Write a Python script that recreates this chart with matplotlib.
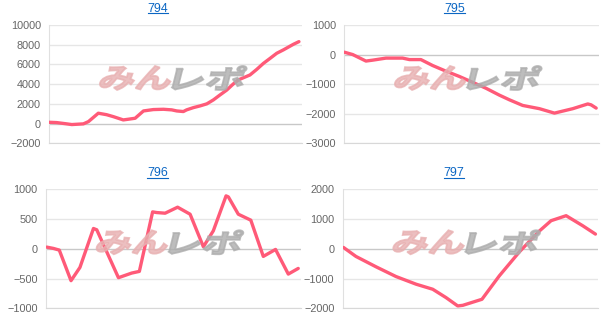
import numpy as np
import matplotlib
matplotlib.use("Agg")
import matplotlib.pyplot as plt
from matplotlib.lines import Line2D
from matplotlib.textpath import TextPath
from matplotlib.patches import PathPatch
from matplotlib.font_manager import FontProperties
from matplotlib.transforms import Affine2D

plt.rcParams['font.family'] = ['Liberation Sans', 'DejaVu Sans']

# machine numbers (panel titles)
titles = ["794", "795", "796", "797"]

# progress through the day (0-100) and coin difference
x794 = [0, 2.9, 6.9, 8.9, 13.5, 15.5, 19.4, 22.7, 25.4, 29.3, 31.3, 34.0, 37.3, 41.2,
        45.2, 48.5, 50.5, 53.1, 54.4, 57.1, 59.7, 62.4, 65.0, 67.6, 70.3, 72.9, 74.9,
        79.5, 82.2, 84.8, 87.5, 90.1, 92.7, 96.7, 98.9]
y794 = [130, 100, -30, -100, -30, 200, 1050, 900, 700, 370, 440, 540, 1280, 1420,
        1450, 1390, 1280, 1220, 1390, 1620, 1790, 2000, 2400, 2900, 3400, 4020, 4430,
        4930, 5500, 6100, 6620, 7130, 7470, 8040, 8310]

x795 = [0, 3.3, 5.9, 8.5, 11.1, 16.4, 22.9, 25.6, 30.1, 34.7, 39.9, 45.2, 50.5, 55.7,
        60.9, 64.9, 70.1, 76.7, 82.6, 84.5, 89.8, 95.7, 97.0, 99.0]
y795 = [80, 0, -110, -220, -190, -120, -120, -170, -170, -370, -560, -740, -940, -1140,
        -1370, -1530, -1720, -1830, -1980, -1940, -1830, -1670, -1700, -1810]

x796 = [0.3, 2.9, 5.2, 9.8, 13.3, 18.6, 19.9, 28.4, 33.6, 36.6, 41.8, 43.4, 46.7, 51.6,
        56.5, 61.7, 65.6, 70.6, 71.5, 75.4, 80.3, 85.2, 90.0, 95.0, 98.9]
y796 = [28, 6, -22, -536, -313, 341, 319, -486, -408, -380, 620, 609, 598, 699,
        581, 34, 302, 889, 872, 581, 481, -128, -11, -425, -330]

x797 = [0.3, 5.2, 13.1, 20.9, 28.8, 35.3, 40.5, 45.1, 47.1, 54.6, 61.4, 69.3, 77.1,
        81.7, 87.6, 94.1, 99.1]
y797 = [45, -258, -607, -933, -1191, -1360, -1640, -1921, -1900, -1697, -910, -101, 596,
        944, 1112, 775, 494]

xs = [x794, x795, x796, x797]
ys = [y794, y795, y796, y797]
yticks = [np.arange(-2000, 10001, 2000), np.arange(-3000, 1001, 1000),
          np.arange(-1000, 1001, 500), np.arange(-2000, 2001, 1000)]

# axes boxes in figure fractions
boxes = [[0.0806, 0.5697, 0.4124, 0.3553],
         [0.5626, 0.5697, 0.4157, 0.3553],
         [0.0752, 0.0742, 0.4167, 0.3574],
         [0.5600, 0.0742, 0.4167, 0.3574]]
title_x = [0.258, 0.743, 0.257, 0.742]

fig = plt.figure(figsize=(6.12, 3.33), dpi=100)
W, H = 612, 333
wm_font = FontProperties(family='Noto Sans CJK JP', weight='bold')


def watermark(ax, box):
    # slanted, squat logo drawn as text paths in pixel coordinates
    x0 = box[0] * W + 53
    ytop = (box[1] + box[3]) * H
    y0 = ytop - 65
    for txt, col, dx in [('みん', '#e8b0b1', 0), ('レポ', '#adadad', 73)]:
        p = TextPath((0, 0), txt, size=1, prop=wm_font)
        ext = p.get_extents()
        sx = 70 / ext.width
        sy = 24 / ext.height
        tr = (Affine2D().translate(-ext.x0, -ext.y0).scale(sx, sy)
              .skew_deg(14, 0).translate(x0 + dx - 4, y0))
        fig.patches.append(PathPatch(p, transform=tr, facecolor=col, edgecolor=col,
                                     lw=1.3, alpha=0.8, zorder=0.5))


axes = []
for i in range(4):
    ax = fig.add_axes(boxes[i])
    ax.patch.set_alpha(0)
    ax.plot(xs[i], ys[i], color='#ff5a78', lw=2.4, solid_joinstyle='round',
            solid_capstyle='round', zorder=5)
    ax.set_xlim(0, 100)
    ax.set_ylim(yticks[i][0], yticks[i][-1])
    ax.set_yticks(yticks[i])
    ax.set_xticks([])
    ax.tick_params(axis='y', length=0, pad=6, labelsize=7.8, labelcolor='#666666')
    for t in yticks[i]:
        c = '#c8c8c8' if t == 0 else '#e6e6e6'
        ax.axhline(t, color=c, lw=1.0, zorder=1)
    for s in ['top', 'right']:
        ax.spines[s].set_visible(False)
    ax.spines['left'].set_color('#e0e0e0')
    ax.spines['bottom'].set_color('#d8d8d8')
    axes.append(ax)
    watermark(ax, boxes[i])

# blue underlined titles
title_texts = []
for i, ax in enumerate(axes):
    b = boxes[i]
    tt = fig.text(title_x[i], b[1] + b[3] + 0.048, titles[i], ha='center',
                  va='center', fontsize=8.9, color='#0b66c3')
    title_texts.append(tt)

fig.canvas.draw()
r = fig.canvas.get_renderer()
for tt in title_texts:
    bb = tt.get_window_extent(r)
    yl = (bb.y0 + 1.5) / H
    fig.add_artist(Line2D([bb.x0 / W, bb.x1 / W], [yl, yl], color='#0b66c3', lw=0.8,
                          transform=fig.transFigure))

fig.savefig('out.png', dpi=100)
